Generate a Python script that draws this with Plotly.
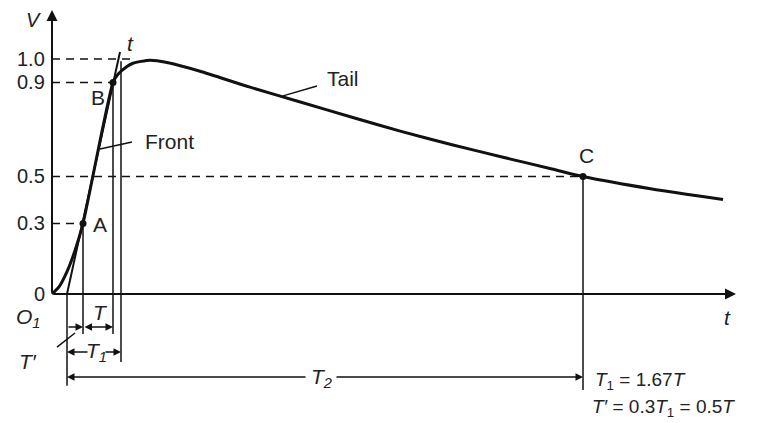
import plotly.graph_objects as go

# impulse wave (time in arbitrary units, voltage per unit)
wave_t = [0, 0.7, 1.5, 2.3, 3.1, 6.1, 6.6, 7.5, 8.1, 9.8, 11.5, 14.8, 19.8,
          25.0, 30.0, 35.0, 40.0, 45.0, 50.0, 53.1, 60.0, 67.1]
wave_v = [0, 0.03, 0.095, 0.185, 0.30, 0.90, 0.935, 0.968, 0.982, 0.995, 0.985, 0.948, 0.88,
          0.815, 0.752, 0.691, 0.635, 0.583, 0.532, 0.50, 0.447, 0.402]

# reference points
pt_names = ["A", "B", "C"]
pt_t = [3.1, 6.1, 53.1]
pt_v = [0.3, 0.9, 0.5]

# front tangent line through A and B
tan_t = [1.5, 6.8]
tan_v = [0.0, 1.03]

o1_t = 1.5      # virtual origin
t1_end = 6.9    # tangent reaches 1.0

levels = [1.0, 0.9, 0.5, 0.3]
level_ends = [7.8, 6.1, 53.1, 3.1]
tick_vals = [1.0, 0.9, 0.5, 0.3, 0]
tick_text = ["1.0", "0.9", "0.5", "0.3", "0"]

FONT = "Liberation Sans, Arial, sans-serif"
BLACK = "#111111"

fig = go.Figure()

# dashed level lines
for lv, te in zip(levels, level_ends):
    fig.add_trace(go.Scatter(x=[0, te], y=[lv, lv], mode="lines",
                             line=dict(color=BLACK, width=1.5, dash="8px,6px"),
                             hoverinfo="skip", showlegend=False))

# vertical construction lines
verts = [(pt_t[0], pt_v[0], -0.170), (pt_t[1], pt_v[1], -0.170), (t1_end, 0.99, -0.289),
         (o1_t, 0.0, -0.391), (pt_t[2], pt_v[2], -0.409)]
for tx, top, bot in verts:
    fig.add_trace(go.Scatter(x=[tx, tx], y=[top, bot], mode="lines",
                             line=dict(color=BLACK, width=1.5),
                             hoverinfo="skip", showlegend=False))

# tangent
fig.add_trace(go.Scatter(x=tan_t, y=tan_v, mode="lines",
                         line=dict(color=BLACK, width=2),
                         hoverinfo="skip", showlegend=False))

# waveform
fig.add_trace(go.Scatter(x=wave_t, y=wave_v, mode="lines",
                         line=dict(color=BLACK, width=3, shape="spline", smoothing=0.6),
                         hoverinfo="skip", showlegend=False))

# points
fig.add_trace(go.Scatter(x=pt_t, y=pt_v, mode="markers",
                         marker=dict(color=BLACK, size=7),
                         hoverinfo="skip", showlegend=False))

# leader lines
for lx, ly in [([4.8, 8.0], [0.617, 0.647]), ([23.1, 26.5], [0.843, 0.885]),
               ([0.5, 2.3], [-0.226, -0.166])]:
    fig.add_trace(go.Scatter(x=lx, y=ly, mode="lines", line=dict(color=BLACK, width=1.5),
                             hoverinfo="skip", showlegend=False))

anns = []


def arrow(x0, y0, x1, y1, side="end", width=1.5, size=1.0):
    anns.append(dict(x=x1, y=y1, ax=x0, ay=y0, xref="x", yref="y", axref="x", ayref="y",
                     text="", showarrow=True, arrowhead=2, arrowside=side,
                     arrowsize=size, arrowwidth=width, arrowcolor=BLACK))


def label(x, y, text, size=21, xanchor="center", italic=False):
    if italic:
        text = "<i>" + text + "</i>"
    anns.append(dict(x=x, y=y, xref="x", yref="y", text=text, showarrow=False,
                     xanchor=xanchor, yanchor="middle",
                     font=dict(family=FONT, size=size, color="#222222")))


# axes
arrow(0, 0, 68.4, 0, width=2, size=1.1)
arrow(0, 0, 0, 1.209, width=2, size=1.1)

# dimension arrows
arrow(o1_t, -0.140, pt_t[0], -0.140)
arrow(pt_t[0], -0.140, pt_t[1], -0.140, side="end+start")
arrow(3.7, -0.247, o1_t, -0.247)
arrow(5.2, -0.247, t1_end, -0.247)
arrow(25.5, -0.353, o1_t, -0.353)
arrow(28.3, -0.353, pt_t[2], -0.353)

# tick labels
for v, s in zip(tick_vals, tick_text):
    label(-0.5, v, s, size=20, xanchor="right")

label(-1.9, 1.165, "V", size=20, italic=True)
label(67.5, -0.102, "t", italic=True)
label(7.8, 1.068, "t", italic=True)
label(-2.4, -0.102, "O<sub>1</sub>", italic=True)
label(-2.4, -0.289, "T\u2032", italic=True)
label(4.8, -0.077, "T", italic=True)
label(4.4, -0.247, "T<sub>1</sub>", italic=True)
label(26.9, -0.357, "T<sub>2</sub>", italic=True)
for n, tx, ty in zip(pt_names, [4.8, 4.6, 53.4], [0.294, 0.838, 0.591]):
    label(tx, ty, n)
label(9.1, 0.647, "Front", xanchor="left")
label(27.3, 0.919, "Tail", xanchor="left")
label(54.1, -0.37, "<i>T</i><sub>1</sub> = 1.67<i>T</i>", size=19, xanchor="left")
label(53.8, -0.485, "<i>T\u2032</i> = 0.3<i>T</i><sub>1</sub> = 0.5<i>T</i>", size=19, xanchor="left")

# page body has an 8px margin, so the figure is 8px smaller than the window
fig.update_layout(
    width=752, height=415,
    margin=dict(l=0, r=0, t=0, b=0),
    paper_bgcolor="white", plot_bgcolor="white",
    xaxis=dict(range=[-4.4, 70.8], visible=False),
    yaxis=dict(range=[-0.549, 1.217], visible=False),
    annotations=anns,
    showlegend=False,
)

fig.write_html("out.html")
